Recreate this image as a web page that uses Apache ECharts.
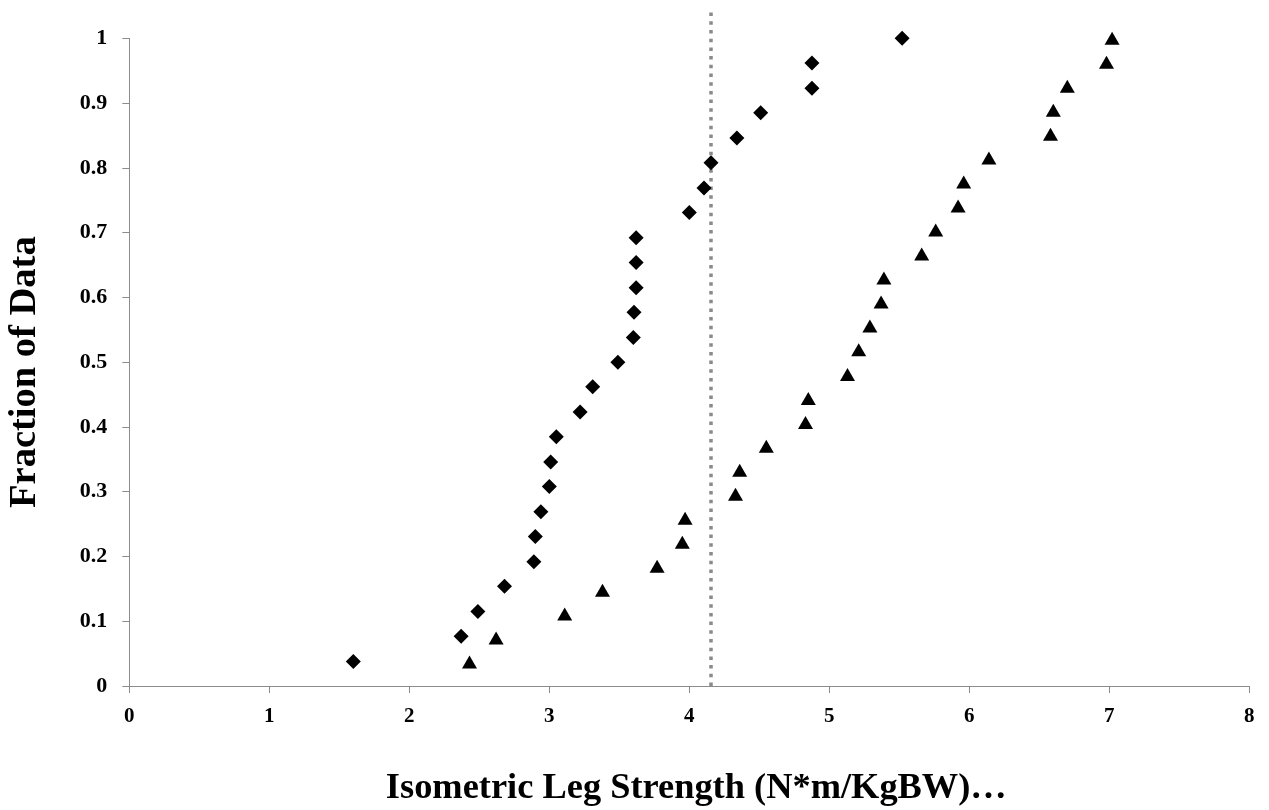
<!DOCTYPE html>
<html>
<head>
<meta charset="utf-8">
<script src="https://cdn.jsdelivr.net/npm/echarts@6/dist/echarts.min.js"></script>
<style>
html,body{margin:0;padding:0;background:#fff;}
#chart{width:1269px;height:810px;}
</style>
</head>
<body>
<div id="chart"></div>
<script>
// Series 1 (diamonds): strength values and cumulative fraction
const diamondX = [1.60, 2.37, 2.49, 2.68, 2.89, 2.90, 2.94, 3.00, 3.01, 3.05, 3.22, 3.31, 3.49, 3.60, 3.605, 3.62, 3.62, 3.62, 4.00, 4.105, 4.155, 4.34, 4.51, 4.876, 4.876, 5.52];
const diamondY = [0.038, 0.077, 0.115, 0.154, 0.192, 0.231, 0.269, 0.308, 0.346, 0.385, 0.423, 0.462, 0.500, 0.538, 0.577, 0.615, 0.654, 0.692, 0.731, 0.769, 0.808, 0.846, 0.885, 0.923, 0.962, 1.000];

// Series 2 (triangles)
const triangleX = [2.43, 2.62, 3.11, 3.38, 3.77, 3.95, 3.97, 4.33, 4.36, 4.55, 4.83, 4.85, 5.13, 5.21, 5.29, 5.37, 5.39, 5.66, 5.76, 5.92, 5.96, 6.14, 6.58, 6.60, 6.70, 6.98, 7.02];
const triangleY = [0.037, 0.074, 0.111, 0.148, 0.185, 0.222, 0.259, 0.296, 0.333, 0.370, 0.407, 0.444, 0.481, 0.519, 0.556, 0.593, 0.630, 0.667, 0.704, 0.741, 0.778, 0.815, 0.852, 0.889, 0.926, 0.963, 1.000];

// Vertical dotted reference line
const refLineX = [4.155, 4.155];
const refLineY = [0, 1.044];

const xTitle = 'Isometric Leg Strength (N*m/KgBW)\u2026';
const yTitle = 'Fraction of Data';

function zip(xs, ys) { return xs.map((x, i) => [x, ys[i]]); }

const FONT = '"Liberation Serif", "Times New Roman", serif';
const AXIS_GRAY = '#8c8c8c';

const chart = echarts.init(document.getElementById('chart'), null, {renderer: 'canvas'});
chart.setOption({
  animation: false,
  backgroundColor: '#ffffff',
  grid: {left: 129.3, right: 19.7, top: 38.3, bottom: 124, containLabel: false, outerBoundsMode: 'none'},
  xAxis: {
    type: 'value', min: 0, max: 8, interval: 1,
    name: xTitle, nameLocation: 'middle', nameGap: 85,
    nameTextStyle: {fontFamily: FONT, fontWeight: 'bold', fontSize: 36.4, color: '#000', padding: [0, 0, 0, 14]},
    axisLine: {show: true, lineStyle: {color: AXIS_GRAY, width: 1}},
    axisTick: {show: true, inside: false, length: 7, lineStyle: {color: AXIS_GRAY}},
    axisLabel: {fontFamily: FONT, fontWeight: 'bold', fontSize: 21, color: '#000', margin: 20},
    splitLine: {show: false}
  },
  yAxis: {
    type: 'value', min: 0, max: 1, interval: 0.1,
    name: yTitle, nameLocation: 'middle', nameGap: 85, nameRotate: 90,
    nameTextStyle: {fontFamily: FONT, fontWeight: 'bold', fontSize: 38.5, color: '#000', padding: [0, 20, 0, 0]},
    axisLine: {show: true, lineStyle: {color: AXIS_GRAY, width: 1}},
    axisTick: {show: true, inside: false, length: 7, lineStyle: {color: AXIS_GRAY}},
    axisLabel: {fontFamily: FONT, fontWeight: 'bold', fontSize: 22, color: '#000', margin: 22},
    splitLine: {show: false}
  },
  series: [
    {
      type: 'line',
      data: zip(refLineX, refLineY),
      showSymbol: false, symbol: 'none',
      clip: false,
      lineStyle: {color: '#8a8a8a', width: 3.5, type: [3.5, 5.2]},
      z: 1
    },
    {
      type: 'scatter',
      data: zip(diamondX, diamondY),
      symbol: 'diamond', symbolSize: [15, 15],
      itemStyle: {color: '#000', opacity: 1},
      z: 3
    },
    {
      type: 'scatter',
      data: zip(triangleX, triangleY),
      symbol: 'triangle', symbolSize: [15, 13],
      itemStyle: {color: '#000', opacity: 1},
      z: 3
    }
  ]
});
</script>
</body>
</html>
